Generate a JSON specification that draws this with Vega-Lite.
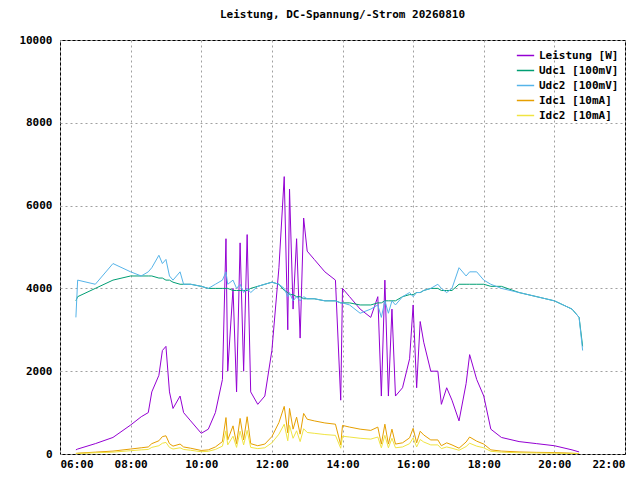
{
  "$schema": "https://vega.github.io/schema/vega-lite/v6.json",
  "autosize": "none",
  "width": 565,
  "height": 414,
  "padding": {"left": 60, "top": 40, "right": 15, "bottom": 26},
  "background": "white",
  "title": {"text": "Leistung, DC-Spannung/-Strom 20260810", "font": "DejaVu Sans Mono", "fontSize": 11, "fontWeight": "bold", "offset": 14},
  "config": {
    "font": "DejaVu Sans Mono",
    "view": {"stroke": "black"},
    "axis": {"labelFont": "DejaVu Sans Mono", "labelFontSize": 11, "labelFontWeight": "bold", "labelColor": "black", "gridColor": "#a0a0a0", "gridDash": [2, 3], "gridOpacity": 1, "domain": false, "tickColor": "black", "title": null}
  },
  "data": {"values": [
    {"t": 6.45, "P": 100, "U1": 3700, "U2": 3300, "I1": 15, "I2": 10},
    {"t": 6.5, "P": 120, "U1": 3800, "U2": 4200, "I1": 20, "I2": 12},
    {"t": 7.0, "P": 250, "U1": 4000, "U2": 4100, "I1": 45, "I2": 30},
    {"t": 7.5, "P": 400, "U1": 4200, "U2": 4600, "I1": 70, "I2": 45},
    {"t": 8.0, "P": 700, "U1": 4300, "U2": 4400, "I1": 120, "I2": 80},
    {"t": 8.3, "P": 900, "U1": 4300, "U2": 4300, "I1": 150, "I2": 100},
    {"t": 8.5, "P": 1000, "U1": 4300, "U2": 4400, "I1": 170, "I2": 110},
    {"t": 8.6, "P": 1500, "U1": 4300, "U2": 4500, "I1": 250, "I2": 160},
    {"t": 8.8, "P": 1900, "U1": 4250, "U2": 4800, "I1": 320, "I2": 200},
    {"t": 8.9, "P": 2500, "U1": 4250, "U2": 4600, "I1": 420, "I2": 260},
    {"t": 9.0, "P": 2600, "U1": 4200, "U2": 4700, "I1": 440, "I2": 280},
    {"t": 9.1, "P": 1500, "U1": 4200, "U2": 4300, "I1": 250, "I2": 160},
    {"t": 9.2, "P": 1100, "U1": 4150, "U2": 4200, "I1": 190, "I2": 120},
    {"t": 9.4, "P": 1400, "U1": 4100, "U2": 4400, "I1": 240, "I2": 150},
    {"t": 9.5, "P": 1000, "U1": 4100, "U2": 4100, "I1": 170, "I2": 110},
    {"t": 9.7, "P": 800, "U1": 4100, "U2": 4100, "I1": 140, "I2": 90},
    {"t": 10.0, "P": 500, "U1": 4050, "U2": 4050, "I1": 85, "I2": 55},
    {"t": 10.2, "P": 600, "U1": 4000, "U2": 4000, "I1": 100, "I2": 65},
    {"t": 10.4, "P": 1000, "U1": 4000, "U2": 4100, "I1": 170, "I2": 110},
    {"t": 10.6, "P": 1800, "U1": 4000, "U2": 4200, "I1": 300, "I2": 190},
    {"t": 10.7, "P": 5200, "U1": 4000, "U2": 4400, "I1": 880, "I2": 560},
    {"t": 10.75, "P": 2000, "U1": 4000, "U2": 4100, "I1": 340, "I2": 220},
    {"t": 10.9, "P": 4000, "U1": 3950, "U2": 4200, "I1": 680, "I2": 430},
    {"t": 11.0, "P": 1500, "U1": 3950, "U2": 4000, "I1": 250, "I2": 160},
    {"t": 11.1, "P": 5100, "U1": 3950, "U2": 4100, "I1": 860, "I2": 550},
    {"t": 11.2, "P": 2000, "U1": 3950, "U2": 3900, "I1": 340, "I2": 220},
    {"t": 11.3, "P": 5300, "U1": 3950, "U2": 4000, "I1": 900, "I2": 570},
    {"t": 11.4, "P": 1500, "U1": 4000, "U2": 3900, "I1": 250, "I2": 160},
    {"t": 11.6, "P": 1200, "U1": 4050, "U2": 4050, "I1": 200, "I2": 130},
    {"t": 11.8, "P": 1400, "U1": 4100, "U2": 4100, "I1": 240, "I2": 150},
    {"t": 12.0, "P": 2500, "U1": 4150, "U2": 4150, "I1": 420, "I2": 270},
    {"t": 12.2, "P": 4500, "U1": 4100, "U2": 4100, "I1": 760, "I2": 480},
    {"t": 12.35, "P": 6700, "U1": 3950, "U2": 4000, "I1": 1150, "I2": 720},
    {"t": 12.45, "P": 3000, "U1": 3900, "U2": 3800, "I1": 510, "I2": 320},
    {"t": 12.5, "P": 6400, "U1": 3850, "U2": 3900, "I1": 1100, "I2": 690},
    {"t": 12.6, "P": 3500, "U1": 3850, "U2": 3700, "I1": 600, "I2": 380},
    {"t": 12.7, "P": 5200, "U1": 3800, "U2": 3800, "I1": 890, "I2": 560},
    {"t": 12.8, "P": 2800, "U1": 3800, "U2": 3700, "I1": 480, "I2": 300},
    {"t": 12.9, "P": 5700, "U1": 3750, "U2": 3800, "I1": 980, "I2": 610},
    {"t": 13.0, "P": 4900, "U1": 3750, "U2": 3750, "I1": 840, "I2": 520},
    {"t": 13.2, "P": 4700, "U1": 3750, "U2": 3750, "I1": 800, "I2": 500},
    {"t": 13.5, "P": 4400, "U1": 3700, "U2": 3700, "I1": 750, "I2": 470},
    {"t": 13.8, "P": 4200, "U1": 3700, "U2": 3700, "I1": 720, "I2": 450},
    {"t": 13.95, "P": 1300, "U1": 3650, "U2": 3650, "I1": 220, "I2": 140},
    {"t": 14.0, "P": 4000, "U1": 3650, "U2": 3650, "I1": 690, "I2": 430},
    {"t": 14.2, "P": 3800, "U1": 3650, "U2": 3600, "I1": 650, "I2": 410},
    {"t": 14.5, "P": 3500, "U1": 3600, "U2": 3400, "I1": 600, "I2": 380},
    {"t": 14.8, "P": 3300, "U1": 3600, "U2": 3500, "I1": 570, "I2": 360},
    {"t": 15.0, "P": 3800, "U1": 3650, "U2": 3600, "I1": 650, "I2": 410},
    {"t": 15.1, "P": 1400, "U1": 3650, "U2": 3300, "I1": 240, "I2": 150},
    {"t": 15.2, "P": 4200, "U1": 3700, "U2": 3700, "I1": 720, "I2": 450},
    {"t": 15.3, "P": 1400, "U1": 3700, "U2": 3400, "I1": 240, "I2": 150},
    {"t": 15.4, "P": 3500, "U1": 3700, "U2": 3700, "I1": 600, "I2": 380},
    {"t": 15.5, "P": 1400, "U1": 3700, "U2": 3600, "I1": 240, "I2": 150},
    {"t": 15.7, "P": 1600, "U1": 3800, "U2": 3800, "I1": 270, "I2": 170},
    {"t": 15.9, "P": 2300, "U1": 3850, "U2": 3900, "I1": 390, "I2": 250},
    {"t": 16.0, "P": 3600, "U1": 3850, "U2": 3800, "I1": 620, "I2": 390},
    {"t": 16.1, "P": 1600, "U1": 3900, "U2": 3900, "I1": 270, "I2": 170},
    {"t": 16.2, "P": 3200, "U1": 3900, "U2": 3900, "I1": 550, "I2": 350},
    {"t": 16.3, "P": 2700, "U1": 3950, "U2": 3950, "I1": 460, "I2": 290},
    {"t": 16.5, "P": 2000, "U1": 4000, "U2": 4000, "I1": 340, "I2": 220},
    {"t": 16.7, "P": 2000, "U1": 4000, "U2": 4100, "I1": 340, "I2": 220},
    {"t": 16.8, "P": 1200, "U1": 3950, "U2": 4000, "I1": 200, "I2": 130},
    {"t": 16.95, "P": 1600, "U1": 3950, "U2": 3900, "I1": 270, "I2": 170},
    {"t": 17.1, "P": 1300, "U1": 3950, "U2": 4000, "I1": 220, "I2": 140},
    {"t": 17.3, "P": 800, "U1": 4100, "U2": 4500, "I1": 140, "I2": 90},
    {"t": 17.5, "P": 1700, "U1": 4100, "U2": 4300, "I1": 290, "I2": 180},
    {"t": 17.6, "P": 2400, "U1": 4100, "U2": 4400, "I1": 410, "I2": 260},
    {"t": 17.8, "P": 1800, "U1": 4100, "U2": 4400, "I1": 310, "I2": 190},
    {"t": 18.0, "P": 1400, "U1": 4100, "U2": 4200, "I1": 240, "I2": 150},
    {"t": 18.2, "P": 600, "U1": 4050, "U2": 4100, "I1": 100, "I2": 65},
    {"t": 18.5, "P": 400, "U1": 4050, "U2": 4000, "I1": 70, "I2": 45},
    {"t": 19.0, "P": 300, "U1": 3900, "U2": 3900, "I1": 50, "I2": 30},
    {"t": 19.5, "P": 250, "U1": 3800, "U2": 3800, "I1": 40, "I2": 25},
    {"t": 20.0, "P": 200, "U1": 3700, "U2": 3700, "I1": 35, "I2": 20},
    {"t": 20.5, "P": 100, "U1": 3500, "U2": 3500, "I1": 20, "I2": 12},
    {"t": 20.7, "P": 50, "U1": 3300, "U2": 3300, "I1": 10, "I2": 5},
    {"t": 20.8, "P": null, "U1": 2600, "U2": 2500, "I1": null, "I2": null}
  ]},
  "transform": [
    {"fold": ["P", "U1", "U2", "I1", "I2"], "as": ["series", "value"]},
    {"filter": "datum.value != null"}
  ],
  "mark": {"type": "line", "strokeWidth": 1, "clip": true},
  "encoding": {
    "x": {"field": "t", "type": "quantitative", "scale": {"domain": [6, 22], "nice": false},
      "axis": {"values": [6, 8, 10, 12, 14, 16, 18, 20, 22], "labelExpr": "(datum.value < 10 ? '0' : '') + datum.value + ':00'", "tickSize": 0, "labelPadding": 4}},
    "y": {"field": "value", "type": "quantitative", "scale": {"domain": [0, 10000], "nice": false},
      "axis": {"values": [0, 2000, 4000, 6000, 8000, 10000], "format": "d", "tickSize": 0, "labelPadding": 8}},
    "color": {"field": "series", "type": "nominal",
      "scale": {"domain": ["P", "U1", "U2", "I1", "I2"], "range": ["#9400d3", "#009e73", "#56b4e9", "#e69f00", "#f0e442"]},
      "legend": {"orient": "top-right", "title": null, "symbolType": "stroke", "symbolSize": 300, "symbolStrokeWidth": 1.5,
        "labelFont": "DejaVu Sans Mono", "labelFontSize": 11, "labelFontWeight": "bold", "rowPadding": 0, "offset": 6,
        "labelExpr": "{'P': 'Leistung [W]', 'U1': 'Udc1 [100mV]', 'U2': 'Udc2 [100mV]', 'I1': 'Idc1 [10mA]', 'I2': 'Idc2 [10mA]'}[datum.label]"}},
    "order": {"field": "t", "type": "quantitative"}
  }
}
